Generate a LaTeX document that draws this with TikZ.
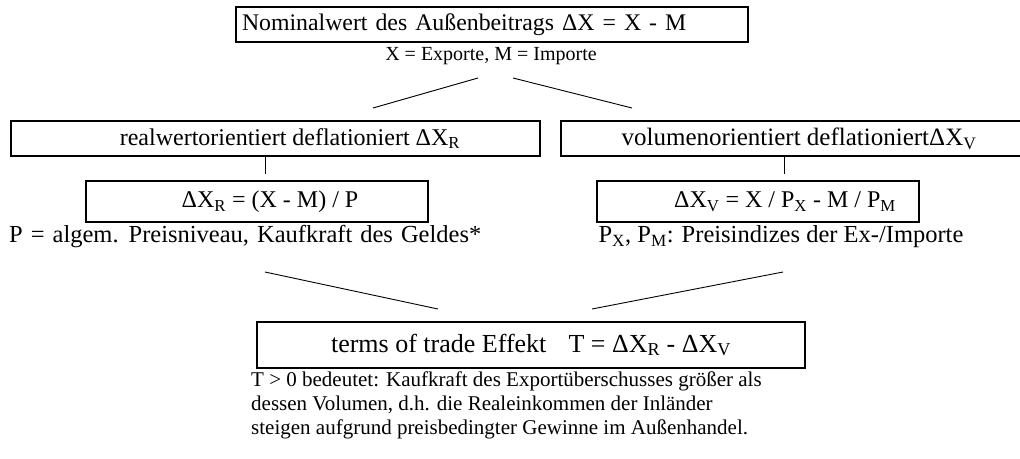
\documentclass[tikz,border=0pt]{standalone}
\usepackage{fontspec}
\setmainfont{Liberation Serif}
\tikzset{
  box/.style={draw, line width=2.2pt, inner sep=0pt, font=\fontsize{24}{28}\selectfont},
  conn/.style={line width=0.9pt},
  note/.style={inner sep=0pt, font=\fontsize{24.5}{28}\selectfont},
  small/.style={inner sep=0pt, font=\fontsize{20}{24}\selectfont},
  para/.style={inner sep=0pt, align=left, font=\fontsize{21}{24}\selectfont},
}
\newcommand{\sbs}[1]{\textsubscript{#1}}
\begin{document}
\begin{tikzpicture}[x=1pt,y=-1pt]
\useasboundingbox (0,0) rectangle (1020,458);
% top box
\node[box, minimum width=512pt, minimum height=35pt, text width=500pt, align=left] (top) at (492,24.5) {\fontsize{23.8}{28}\selectfont Nominalwert des Außenbeitrags ΔX = X - M};
\node[small] (sub) at (491,56) {X = Exporte, M = Importe};
% second level
\node[box, minimum width=529pt, minimum height=35pt] (lb) at (275.5,138.5) {\hspace*{29pt}realwertorientiert deflationiert ΔX\sbs{R}};
\node[box, minimum width=462pt, minimum height=35pt] (rb) at (792,138.5) {\hspace*{14pt}\fontsize{25}{28}\selectfont volumenorientiert deflationiertΔX\sbs{V}};
% third level
\node[box, minimum width=342pt, minimum height=41pt] (li) at (257,201.5) {\hspace*{26pt}ΔX\sbs{R} = (X - M) / P};
\node[box, minimum width=322pt, minimum height=41pt] (ri) at (758,201.5) {\hspace*{54pt}ΔX\sbs{V} = X / P\sbs{X} - M / P\sbs{M}};
\node[note, anchor=west] (lnote) at (9,237) {\spaceskip=8pt plus 2pt\relax P = algem. Preisniveau, Kaufkraft des Geldes*};
\node[note] (rnote) at (781,237) {P\sbs{X}, P\sbs{M}: Preisindizes der Ex-/Importe};
% bottom
\node[box, minimum width=548pt, minimum height=46pt, font=\fontsize{26}{30}\selectfont] (bb) at (531,345) {terms of trade Effekt\hspace{0.6em} T = ΔX\sbs{R} - ΔX\sbs{V}};
\node[para, anchor=west] (expl) at (251,405) {T > 0 bedeutet: Kaufkraft des Exportüberschusses größer als\\dessen Volumen, d.h. die Realeinkommen der Inländer\\steigen aufgrund preisbedingter Gewinne im Außenhandel.};
% connector ends
\coordinate (a1) at (478,78);
\coordinate (a2) at (373,108);
\coordinate (b1) at (513,78);
\coordinate (b2) at (632,108);
\coordinate (v1) at (265,174);
\coordinate (v2) at (784,174);
\coordinate (c1) at (265,272);
\coordinate (c2) at (438,309);
\coordinate (d1) at (783,272);
\coordinate (d2) at (592,309);
\draw[conn] (a1) -- (a2);
\draw[conn] (b1) -- (b2);
\draw[conn] (lb.south -| v1) -- (v1);
\draw[conn] (rb.south -| v2) -- (v2);
\draw[conn] (c1) -- (c2);
\draw[conn] (d1) -- (d2);
\end{tikzpicture}
\end{document}
